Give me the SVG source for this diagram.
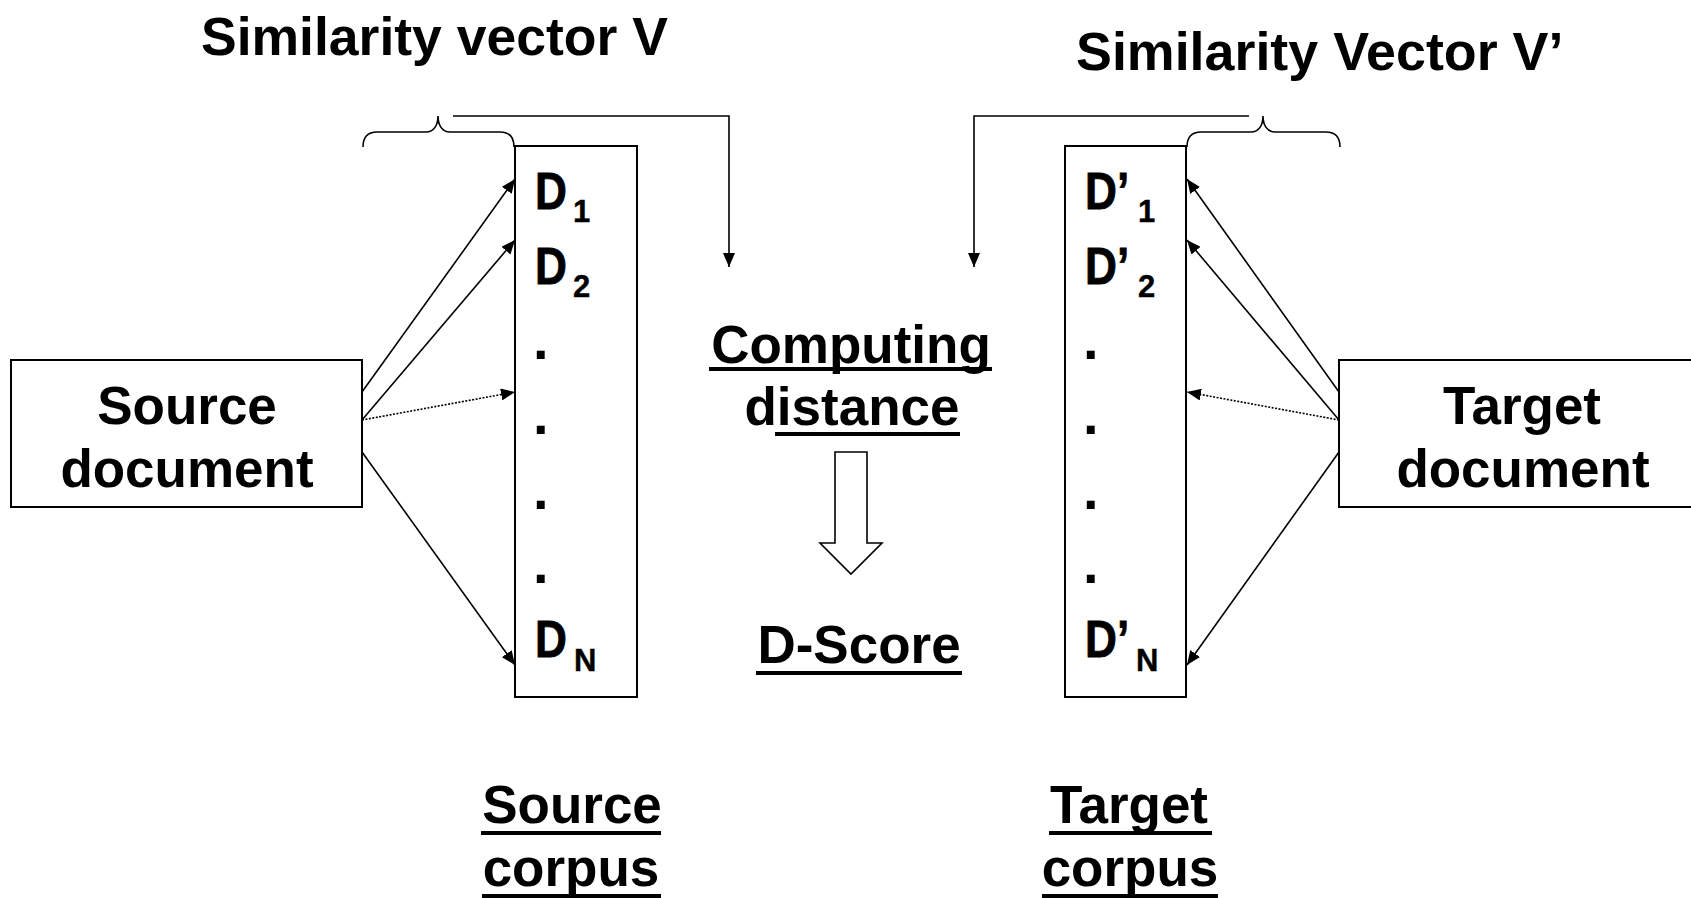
<svg xmlns="http://www.w3.org/2000/svg" width="1691" height="898" viewBox="0 0 1691 898">
  <style>
    .t { font-family: "Liberation Sans", Arial, sans-serif; font-weight: bold; fill: #000; }
    .big { font-size: 53px; }
    .lab { font-size: 52px; stroke: #000; stroke-width: 0.8; }
    .pt { font-size: 56px; }
    .sub { font-size: 31px; stroke: #000; stroke-width: 0.4; }
    .box { fill: #fff; stroke: #000; stroke-width: 2; }
    .ln { fill: none; stroke: #000; stroke-width: 1.6; }
    .dot { fill: none; stroke: #000; stroke-width: 1.6; stroke-dasharray: 2 1.5; }
    .ul { fill: #000; }
  </style>
  <defs>
    <marker id="ah" markerUnits="userSpaceOnUse" markerWidth="15" markerHeight="12" refX="14" refY="6" orient="auto">
      <path d="M0,0 L14,6 L0,12 z" fill="#000"/>
    </marker>
  </defs>
  <rect width="1691" height="898" fill="#fff"/>

  <!-- titles above the two corpora -->
  <g id="title-v">
    <text class="t" x="201" y="55" font-size="53.5">Similarity vector V</text>
  </g>
  <g id="title-v2">
    <text class="t" x="1076" y="70" font-size="53.8">Similarity Vector V’</text>
  </g>

  <!-- source document -->
  <g id="source-document">
    <rect class="box" x="11" y="360" width="351" height="147"/>
    <text class="t big" x="187" y="424" text-anchor="middle">Source</text>
    <text class="t big" x="187" y="487" text-anchor="middle">document</text>
  </g>

  <!-- target document (runs off the right edge) -->
  <g id="target-document">
    <rect class="box" x="1339" y="360" width="380" height="147"/>
    <text class="t big" x="1522" y="424" text-anchor="middle">Target</text>
    <text class="t big" x="1523" y="487" text-anchor="middle">document</text>
  </g>

  <!-- source corpus column -->
  <g id="source-corpus">
    <rect class="box" x="515" y="146" width="122" height="551"/>
    <text class="t lab" transform="translate(535,209) scale(0.85,1)">D</text>
    <text class="t sub" x="573" y="222">1</text>
    <text class="t lab" transform="translate(535,284) scale(0.85,1)">D</text>
    <text class="t sub" x="573" y="297">2</text>
    <text class="t pt" x="533" y="359">.</text>
    <text class="t pt" x="533" y="434">.</text>
    <text class="t pt" x="533" y="509">.</text>
    <text class="t pt" x="533" y="583">.</text>
    <text class="t lab" transform="translate(535,657) scale(0.85,1)">D</text>
    <text class="t sub" x="574" y="671">N</text>
  </g>

  <!-- target corpus column -->
  <g id="target-corpus">
    <rect class="box" x="1065" y="146" width="121" height="551"/>
    <text class="t lab" transform="translate(1085,209) scale(0.85,1)">D’</text>
    <text class="t sub" x="1138" y="222">1</text>
    <text class="t lab" transform="translate(1085,284) scale(0.85,1)">D’</text>
    <text class="t sub" x="1138" y="297">2</text>
    <text class="t pt" x="1083" y="359">.</text>
    <text class="t pt" x="1083" y="434">.</text>
    <text class="t pt" x="1083" y="509">.</text>
    <text class="t pt" x="1083" y="583">.</text>
    <text class="t lab" transform="translate(1085,657) scale(0.85,1)">D’</text>
    <text class="t sub" x="1136" y="671">N</text>
  </g>

  <!-- distance computation and its result -->
  <g id="computing-distance">
    <text class="t big" x="851" y="363" text-anchor="middle">Computing</text>
    <rect class="ul" x="709" y="367" width="283" height="4"/>
    <text class="t big" x="852" y="425" text-anchor="middle">distance</text>
    <rect class="ul" x="775" y="432" width="185" height="4"/>
  </g>
  <g id="d-score">
    <text class="t big" x="859" y="663" text-anchor="middle">D-Score</text>
    <rect class="ul" x="756" y="671" width="206" height="4"/>
  </g>

  <!-- corpus captions -->
  <g id="source-corpus-label">
    <text class="t big" x="572" y="823" text-anchor="middle">Source</text>
    <rect class="ul" x="481" y="831" width="180" height="4"/>
    <text class="t big" x="571" y="886" text-anchor="middle">corpus</text>
    <rect class="ul" x="482" y="894" width="179" height="4"/>
  </g>
  <g id="target-corpus-label">
    <text class="t big" x="1129" y="823" text-anchor="middle">Target</text>
    <rect class="ul" x="1049" y="831" width="163" height="4"/>
    <text class="t big" x="1130" y="886" text-anchor="middle">corpus</text>
    <rect class="ul" x="1042" y="894" width="176" height="4"/>
  </g>

  <!-- connectors -->
  <g id="connectors">
    <!-- braces grouping each similarity vector -->
    <path class="ln" d="M363,147 C363,138 367,132 377,132 L426,132 C434,132 438,125 438,116 C438,125 442,132 450,132 L500,132 C510,132 514,138 514,147"/>
    <path class="ln" d="M1187,147 C1187,138 1191,132 1201,132 L1251,132 C1259,132 1263,125 1263,116 C1263,125 1267,132 1275,132 L1326,132 C1336,132 1340,138 1340,147"/>
    <!-- vectors feeding the distance computation -->
    <path class="ln" d="M453,116 L729,116 L729,267" marker-end="url(#ah)"/>
    <path class="ln" d="M1249,116 L974,116 L974,267" marker-end="url(#ah)"/>
    <!-- source document to corpus entries -->
    <path class="ln" d="M362,392 L515,179" marker-end="url(#ah)"/>
    <path class="ln" d="M362,420 L515,240" marker-end="url(#ah)"/>
    <path class="dot" d="M362,420 L515,392" marker-end="url(#ah)"/>
    <path class="ln" d="M362,452 L515,665" marker-end="url(#ah)"/>
    <!-- target document to corpus entries -->
    <path class="ln" d="M1339,392 L1187,179" marker-end="url(#ah)"/>
    <path class="ln" d="M1339,420 L1187,240" marker-end="url(#ah)"/>
    <path class="dot" d="M1339,420 L1187,392" marker-end="url(#ah)"/>
    <path class="ln" d="M1339,452 L1187,665" marker-end="url(#ah)"/>
    <!-- hollow block arrow down to the score -->
    <path d="M835,452 L867,452 L867,543 L882,543 L851,574 L820,543 L835,543 z" fill="#fff" stroke="#000" stroke-width="1.6"/>
  </g>
</svg>
